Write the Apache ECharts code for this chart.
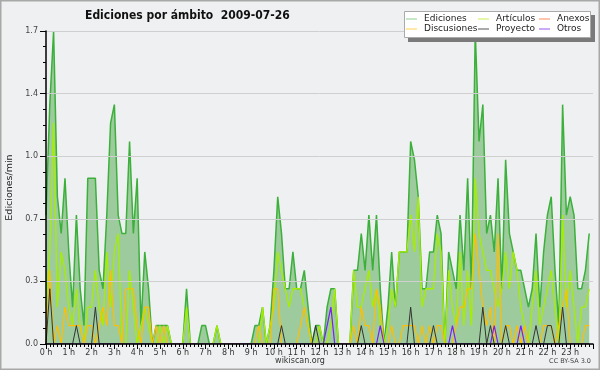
<!DOCTYPE html>
<html><head><meta charset="utf-8">
<script src="https://cdn.jsdelivr.net/npm/echarts@6/dist/echarts.min.js"></script>
<style>html,body{margin:0;padding:0;background:#eff0f1}#c{width:600px;height:370px}</style>
</head><body><div id="c"></div>
<script>
// 10-minute slots, 0:00 .. 23:50 (edits per minute)
var ediciones = [0.7,1.3,1.7,0.8,0.6,0.9,0.5,0.2,0.7,0.3,0.1,0.9,0.9,0.9,0.4,0.3,0.7,1.2,1.3,0.7,0.6,0.6,1.1,0.6,0.9,0.1,0.5,0.3,0,0.1,
0.1,0.1,0.1,0,0,0,0,0.3,0,0,0,0.1,0.1,0,0,0.1,0,0,0,0,0,0,0,0,0,0.1,0.1,0.2,0,0.1,
0.4,0.8,0.6,0.3,0.3,0.5,0.3,0.3,0.4,0.2,0,0.1,0.1,0,0.2,0.3,0.3,0,0,0,0,0.4,0.4,0.6,0.4,0.7,0.4,0.7,0.3,0,
0.2,0.5,0.2,0.5,0.5,0.5,1.1,1.0,0.8,0.3,0.3,0.5,0.5,0.7,0.6,0,0.5,0.4,0.3,0.7,0.4,0.9,0.3,1.7,1.1,1.3,0.6,0.7,0.5,0.9,
0.3,1.0,0.6,0.5,0.4,0.4,0.3,0.2,0.3,0.6,0.2,0.5,0.7,0.8,0.4,0.1,1.3,0.7,0.8,0.7,0.3,0.3,0.4,0.6];
var articulos = [0.2,0.5,1.2,0.2,0.5,0.4,0.2,0.1,0.3,0.1,0,0.2,0.2,0.4,0.2,0.1,0.5,0.2,0.5,0.6,0,0,0.4,0.2,0,0.1,0.2,0.1,0,0,
0.1,0,0.1,0,0,0,0,0.2,0,0,0,0,0,0,0,0.1,0,0,0,0,0,0,0,0,0,0,0,0.2,0,0.1,
0.2,0.5,0.4,0.3,0.2,0.3,0.3,0.3,0.2,0.1,0,0,0.1,0,0,0.1,0.3,0,0,0,0,0.4,0.2,0.2,0.3,0.4,0.2,0.3,0.1,0,
0.1,0.3,0.2,0.5,0.5,0.5,0.7,0.5,0.8,0.2,0.3,0.3,0.3,0.6,0.5,0,0.4,0.2,0.1,0.5,0.1,0.4,0.1,0.9,0.6,0.5,0.4,0.4,0.3,0.2,
0.3,0.5,0.3,0.5,0.4,0.2,0.1,0,0.2,0.4,0.1,0.2,0.3,0.4,0.2,0,0.7,0.2,0.4,0.2,0,0.2,0.2,0.3];
var discusiones = [0,0.4,0,0.1,0,0.2,0.1,0.1,0.1,0.1,0,0.1,0.1,0,0.1,0.2,0.1,0.4,0.1,0.1,0,0.3,0.3,0.3,0.1,0,0.2,0.2,0,0.1,
0,0.1,0,0,0,0,0,0,0,0,0,0,0,0,0,0,0,0,0,0,0,0,0,0,0,0,0.1,0,0,0,
0.3,0.3,0,0,0,0,0,0.1,0.2,0.1,0,0,0,0,0,0,0,0,0,0,0,0.1,0,0.2,0.1,0.1,0,0.3,0.2,0,
0,0.1,0,0,0.1,0.1,0.1,0.1,0,0.1,0,0.1,0,0.1,0.1,0,0,0,0.1,0.2,0.2,0.3,0.3,0.6,0.4,0.2,0.1,0.2,0,0.6,
0,0.1,0.1,0,0.1,0,0.1,0,0,0,0,0.1,0.1,0.1,0,0.1,0.2,0.3,0,0,0,0,0.1,0.1];
var proyecto = [0,0.3,0,0,0,0,0,0,0.1,0,0,0,0,0.2,0,0,0,0,0,0,0,0,0,0,0,0,0,0,0,0,
0,0,0,0,0,0,0,0,0,0,0,0,0,0,0,0,0,0,0,0,0,0,0,0,0,0,0,0,0,0,
0,0,0.1,0,0,0,0,0,0,0,0,0.1,0,0,0,0,0,0,0,0,0,0,0,0.1,0,0,0,0,0,0,
0,0,0,0,0,0,0.2,0,0,0,0,0,0.1,0,0,0,0,0,0,0,0,0,0,0,0,0.2,0,0.1,0,0,
0,0.1,0,0,0,0,0,0,0,0.1,0,0,0.1,0.1,0,0,0.2,0,0,0,0,0,0,0];
var otros = [0,0,0,0,0,0,0,0,0,0,0,0,0,0,0,0,0,0,0,0,0,0,0,0,0,0,0,0,0,0,
0,0,0,0,0,0,0,0,0,0,0,0,0,0,0,0,0,0,0,0,0,0,0,0,0,0,0,0,0,0,
0,0,0,0,0,0,0,0,0,0,0,0,0,0,0.1,0.2,0,0,0,0,0,0,0,0,0,0,0,0,0.1,0,
0,0,0,0,0,0,0,0,0,0,0,0,0,0,0,0,0,0.1,0,0,0,0,0,0,0,0,0,0,0.1,0,
0,0,0,0,0,0.1,0,0,0,0,0,0,0,0,0,0,0,0,0,0,0,0,0,0];
var anexos = [];
var hourLabels = [];
for (var h = 0; h < 24; h++) hourLabels.push(h + ' h');

function pts(arr){ return arr.map(function(v,i){ return [i*10, v]; }); }

var font = 'DejaVu Sans';
var chart = echarts.init(document.getElementById('c'), null, {renderer:'canvas'});
function legendCol(left, names){
  return {
    orient:'vertical', left:left, top:14, data:names, z:60,
    icon:'rect', itemWidth:11, itemHeight:1, itemGap:0,
    selectedMode:false,
    textStyle:{fontFamily:font, fontSize:9, color:'#222', lineHeight:10, padding:[0,0,0,2]},
    padding:0
  };
}
chart.setOption({
  backgroundColor:'#eff0f1',
  animation:false,
  title:{text:'Ediciones por ámbito  2009-07-26', left:80, top:5,
    textStyle:{fontFamily:'DejaVu Sans Condensed', fontWeight:'bold', fontSize:12, color:'#111'}},
  graphic:[
    {type:'rect', shape:{x:0.75,y:0.75,width:598.5,height:368.5}, style:{fill:'none', stroke:'#a8a8a8', lineWidth:1.5}, z:100},
    {type:'rect', shape:{x:408,y:15,width:187,height:27}, style:{fill:'#7a7a7a'}, z:50},
    {type:'rect', shape:{x:404.5,y:11.5,width:186,height:26}, style:{fill:'#ffffff', stroke:'#aaaaaa', lineWidth:1}, z:51},
    {type:'text', left:'center', top:357, style:{text:'wikiscan.org', fontFamily:font, fontSize:8, fill:'#333'}, z:60},
    {type:'text', right:9, top:358, style:{text:'CC BY-SA 3.0', fontFamily:font, fontSize:6.5, fill:'#444'}, z:60}
  ],
  legend:[
    legendCol(406, ['Ediciones','Discusiones']),
    legendCol(478, ['Artículos','Proyecto']),
    legendCol(539, ['Anexos','Otros'])
  ],
  grid:{left:46, right:7, top:31, bottom:26, containLabel:false, outerBoundsMode:'none'},
  xAxis:{type:'value', min:0, max:1440, interval:60, z:10,
    axisLine:{lineStyle:{color:'#000', width:1.5}},
    axisTick:{length:5, lineStyle:{color:'#000', width:1}},
    minorTick:{show:true, splitNumber:6, length:3, lineStyle:{color:'#000', width:1}},
    splitLine:{show:false},
    axisLabel:{fontFamily:font, fontSize:8, color:'#333', margin:5,
      formatter:function(v){ var k=Math.round(v/60); return k<24 ? hourLabels[k] : ''; }}
  },
  yAxis:{type:'value', min:0, max:1.7, interval:0.34, z:10,
    name:'Ediciones/min', nameLocation:'middle', nameGap:31, nameRotate:90,
    nameTextStyle:{fontFamily:font, fontSize:9.5, color:'#222'},
    axisLine:{show:true, lineStyle:{color:'#000', width:1.5}},
    axisTick:{show:true, length:6, lineStyle:{color:'#000', width:1}},
    minorTick:{show:true, splitNumber:4, length:3, lineStyle:{color:'#000', width:1}},
    splitLine:{show:true, lineStyle:{color:'#cfcfcf', width:1}},
    axisLabel:{fontFamily:font, fontSize:8, color:'#444', margin:8,
      formatter:function(v){ return v.toFixed(1); }}
  },
  series:[
    {name:'Ediciones', type:'line', data:pts(ediciones), showSymbol:false, symbol:'none',
      itemStyle:{color:'#8fd08f'}, lineStyle:{color:'#3bb03b', width:1.5},
      areaStyle:{color:'#9ecb9e', opacity:1}, z:2},
    {name:'Artículos', type:'line', data:pts(articulos), showSymbol:false, symbol:'none',
      itemStyle:{color:'#c8ee50'}, lineStyle:{color:'#a6ee00', width:1.3}, z:3},
    {name:'Anexos', type:'line', data:pts(anexos), showSymbol:false, symbol:'none',
      itemStyle:{color:'#ff8a5a'}, lineStyle:{color:'#ff7a40', width:1.2}, z:3},
    {name:'Discusiones', type:'line', data:pts(discusiones), showSymbol:false, symbol:'none',
      itemStyle:{color:'#ffd34a'}, lineStyle:{color:'#ffbe00', width:1.2}, z:4},
    {name:'Proyecto', type:'line', data:pts(proyecto), showSymbol:false, symbol:'none',
      itemStyle:{color:'#555555'}, lineStyle:{color:'#333333', width:1}, z:5},
    {name:'Otros', type:'line', data:pts(otros), showSymbol:false, symbol:'none',
      itemStyle:{color:'#9a55f0'}, lineStyle:{color:'#7a1ff5', width:1.2}, z:6}
  ]
});
</script></body></html>
